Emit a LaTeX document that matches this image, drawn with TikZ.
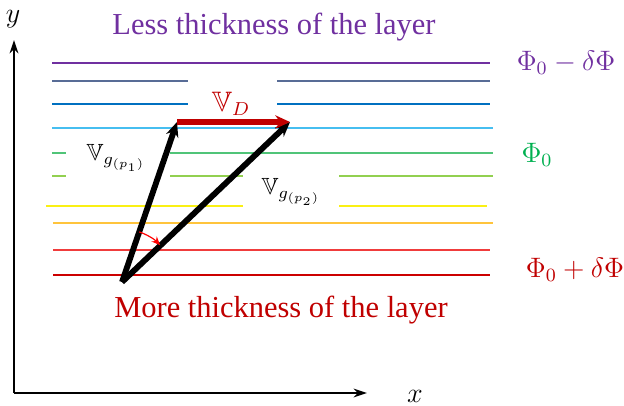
\documentclass[tikz,border=0pt]{standalone}
\usepackage{amsmath,amssymb}
\usepackage{fontspec}
\setmainfont{Liberation Serif}
\usetikzlibrary{arrows.meta,positioning}
\definecolor{layerpurple}{RGB}{112,48,160}
\definecolor{layerslate}{RGB}{88,108,150}
\definecolor{layerblue}{RGB}{0,112,192}
\definecolor{layercyan}{RGB}{70,190,240}
\definecolor{layergreen}{RGB}{80,196,120}
\definecolor{layerlime}{RGB}{146,208,80}
\definecolor{layeryellow}{RGB}{250,240,20}
\definecolor{layerorange}{RGB}{255,196,60}
\definecolor{layerred}{RGB}{240,60,60}
\definecolor{layerdarkred}{RGB}{204,0,0}
\definecolor{thickred}{RGB}{192,0,0}
\definecolor{phigreen}{RGB}{0,176,80}

\begin{document}
\begin{tikzpicture}[x=0.15mm,y=-0.15mm,
  every node/.style={inner sep=1pt},
  layer/.style={line width=0.6pt},
  axis/.style={line width=0.9pt,-{Stealth[length=2mm,width=1.3mm]}},
  vec/.style={line width=2.5pt,-{Stealth[length=2.2mm,width=1.9mm]}},
  drift/.style={line width=2.5pt,thickred,-{Stealth[length=2.2mm,width=2mm]}},
  bigtext/.style={font=\fontsize{13}{15}\selectfont}]
\useasboundingbox (0,0) rectangle (624,405);

% axes
\coordinate (orig) at (14,393);
\coordinate (ytop) at (14,40);
\coordinate (xend) at (367,393);
\draw[axis] (orig) -- (ytop);
\draw[axis] (orig) -- (xend);
\node[inner sep=0pt] (ylab) at (13,19) {\large $y$};
\node[inner sep=0pt] (xlab) at (415,396) {\large $x$};

% layers
\draw[layer,layerpurple] (52,63) -- (490,63);
\draw[layer,layerslate] (52,81) -- (188,81) (277,81) -- (490,81);
\draw[layer,layerblue] (52,104) -- (188,104) (277,104) -- (490,104);
\draw[layer,layercyan] (52,128) -- (493,128);
\draw[layer,layergreen] (52,153) -- (66,153) (170,153) -- (493,153);
\draw[layer,layerlime] (52,176) -- (66,176) (170,176) -- (243,176) (339,176) -- (493,176);
\draw[layer,layeryellow] (46,206) -- (243,206) (339,206) -- (487,206);
\draw[layer,layerorange] (53,223) -- (493,223);
\draw[layer,layerred] (53,250) -- (490,250);
\draw[layer,layerdarkred] (53,275) -- (490,275);

% texts
\node[bigtext,text=layerpurple] (less) at (274,27) {Less thickness of the layer};
\node[bigtext,text=thickred] (more) at (281,310) {More thickness of the layer};
\node[text=layerpurple] (phitop) at (566,63) {\large $\Phi_0-\delta\Phi$};
\node[text=phigreen] (phimid) at (537,155) {\large $\Phi_0$};
\node[text=thickred] (phibot) at (575,270) {\large $\Phi_0+\delta\Phi$};

% vectors
\coordinate (O) at (122,282);
\coordinate (P1) at (177,122);
\coordinate (P2) at (290,122);
\draw[vec] (O) -- (P1);
\draw[vec] (O) -- (P2);
\draw[drift] (P1) -- (P2);
\draw[red,line width=0.5pt,-{Stealth[length=1.3mm,width=1.1mm]}]
  ([shift={(-71:53)}]O) arc[start angle=-71,end angle=-44,radius=53];
\node[text=thickred] (vd) at (231,104) {\large $\mathbb{V}_D$};
\node (vg1) at (116,158) {$\mathbb{V}_{g_{(p_1)}}$};
\node (vg2) at (291,192) {$\mathbb{V}_{g_{(p_2)}}$};
\end{tikzpicture}
\end{document}
